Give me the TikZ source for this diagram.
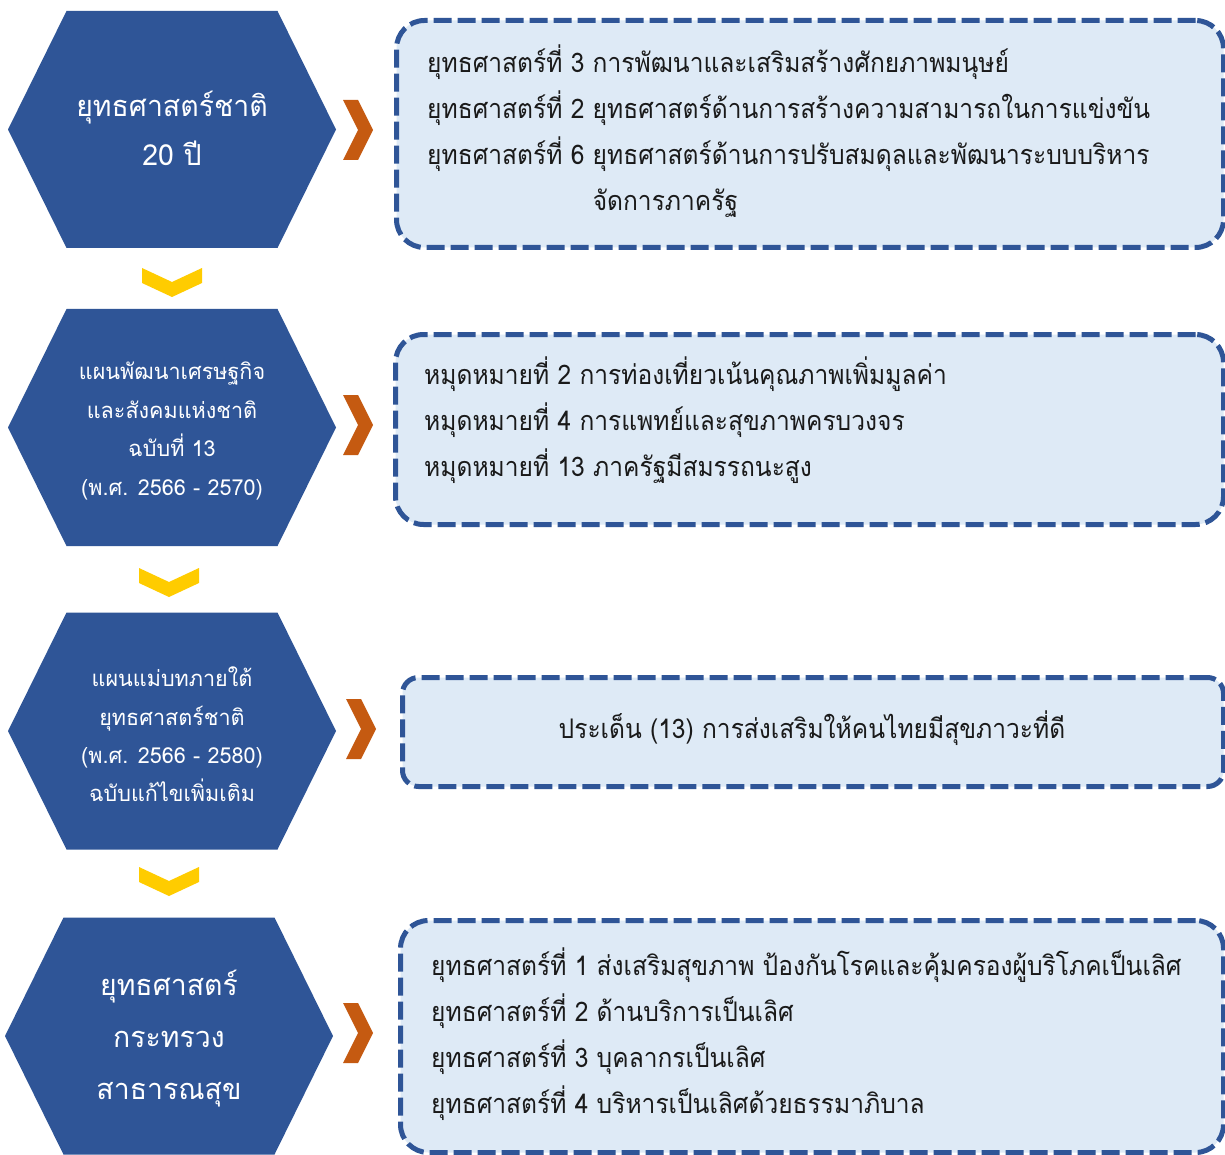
\documentclass[tikz,border=0pt]{standalone}
\usepackage{fontspec}
\newfontfamily\thaibox[Script=Thai,FakeStretch=0.91]{Loma}
\newfontfamily\thaihex[Script=Thai,FakeStretch=0.98]{Loma}
\definecolor{hexblue}{HTML}{2F5597}
\definecolor{chevorange}{HTML}{C55A11}
\definecolor{chevyellow}{HTML}{FFCC00}
\definecolor{boxfill}{HTML}{DEEAF6}
\definecolor{boxtext}{HTML}{1A1A1A}
\tikzset{
  hexa/.pic={\fill[hexblue] (-164,0) -- (-105.5,-118.5) -- (105.5,-118.5) -- (164,0) -- (105.5,118.5) -- (-105.5,118.5) -- cycle;},
  orangechev/.pic={\fill[chevorange] (-15,-30) -- (0,-30) -- (15,0) -- (0,30) -- (-15,30) -- (0,0) -- cycle;},
  yellowchev/.pic={\fill[chevyellow] (-30,-14) -- (0,0) -- (30,-14) -- (30,1) -- (0,15) -- (-30,1) -- cycle;},
  dashbox/.style={draw=hexblue, fill=boxfill, line width=5pt, dash pattern=on 18pt off 6pt,
    rectangle, rounded corners=28pt, anchor=north west, inner sep=0pt},
  boxtxt/.style={anchor=west, inner sep=0pt, align=left, text=boxtext,
    font=\thaibox\fontsize{27}{46}\selectfont},
  hextxt/.style={inner sep=0pt, align=center, text=white},
}
\begin{document}
\begin{tikzpicture}[x=1pt,y=-1pt]
\useasboundingbox[fill=white] (0,0) rectangle (1225,1155);
% hexagons
\pic at (172,129.5) {hexa};
\pic at (172,427.5) {hexa};
\pic at (172,731) {hexa};
\pic at (169,1036) {hexa};
\node[hextxt, font=\thaihex\fontsize{29}{49}\selectfont] (h1) at (172,128) {ยุทธศาสตร์ชาติ\\20 ปี};
\node[hextxt, font=\thaihex\fontsize{22}{38.7}\selectfont] (h2) at (172,431) {แผนพัฒนาเศรษฐกิจ\\และสังคมแห่งชาติ\\ฉบับที่ 13\\(พ.ศ. 2566 - 2570)};
\node[hextxt, font=\thaihex\fontsize{22}{38.4}\selectfont] (h3) at (172,734.5) {แผนแม่บทภายใต้\\ยุทธศาสตร์ชาติ\\(พ.ศ. 2566 - 2580)\\ฉบับแก้ไขเพิ่มเติม};
\node[hextxt, font=\thaihex\fontsize{29}{52}\selectfont] (h4) at (169,1039) {ยุทธศาสตร์\\กระทรวง\\สาธารณสุข};
% flow chevrons
\pic at (172,282) {yellowchev};
\pic at (169,582) {yellowchev};
\pic at (169,881) {yellowchev};
\pic at (358,130) {orangechev};
\pic at (358,425) {orangechev};
\pic at (361,729) {orangechev};
\pic at (358,1033) {orangechev};
% boxes
\node[dashbox, minimum width=827pt, minimum height=227pt] (b1) at (394,18) {};
\node[dashbox, minimum width=828pt, minimum height=190pt] (b2) at (393,332) {};
\node[dashbox, minimum width=821pt, minimum height=109pt, rounded corners=16pt] (b3) at (400,675) {};
\node[dashbox, minimum width=823pt, minimum height=232pt] (b4) at (398,918) {};
% box texts
\node[boxtxt] (t1) at (427,131) {ยุทธศาสตร์ที่ 3 การพัฒนาและเสริมสร้างศักยภาพมนุษย์\\
ยุทธศาสตร์ที่ 2 ยุทธศาสตร์ด้านการสร้างความสามารถในการแข่งขัน\\
ยุทธศาสตร์ที่ 6 ยุทธศาสตร์ด้านการปรับสมดุลและพัฒนาระบบบริหาร\\
\phantom{ยุทธศาสตร์ที่ 6 }จัดการภาครัฐ};
\node[boxtxt] (t2) at (424,420) {หมุดหมายที่ 2 การท่องเที่ยวเน้นคุณภาพเพิ่มมูลค่า\\
หมุดหมายที่ 4 การแพทย์และสุขภาพครบวงจร\\
หมุดหมายที่ 13 ภาครัฐมีสมรรถนะสูง};
\node[boxtxt, anchor=center] (t3) at (812,728) {ประเด็น (13) การส่งเสริมให้คนไทยมีสุขภาวะที่ดี};
\node[boxtxt] (t4) at (431,1034) {ยุทธศาสตร์ที่ 1 ส่งเสริมสุขภาพ ป้องกันโรคและคุ้มครองผู้บริโภคเป็นเลิศ\\
ยุทธศาสตร์ที่ 2 ด้านบริการเป็นเลิศ\\
ยุทธศาสตร์ที่ 3 บุคลากรเป็นเลิศ\\
ยุทธศาสตร์ที่ 4 บริหารเป็นเลิศด้วยธรรมาภิบาล};
\end{tikzpicture}
\end{document}
